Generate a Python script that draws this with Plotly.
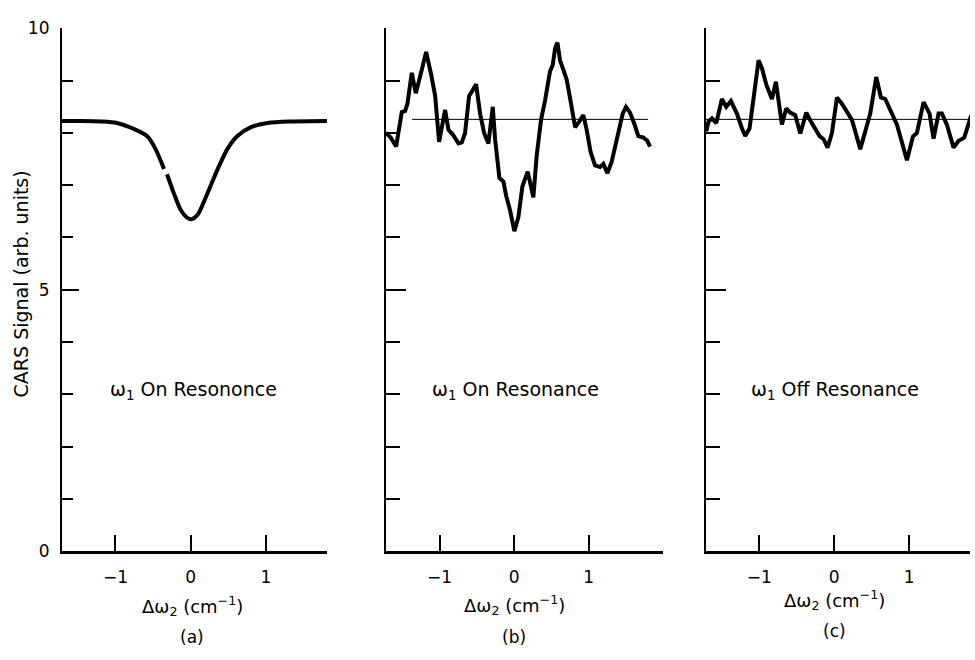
import plotly.graph_objects as go

# ---------------- data ----------------
a_x = [-1.71, -1.45, -1.2, -0.98, -0.76, -0.58, -0.47, -0.355, None, -0.315, -0.22, -0.13,
       -0.04, 0.01, 0.09, 0.18, 0.27, 0.38, 0.49, 0.62, 0.8, 1.02, 1.33, 1.81]
a_y = [8.23, 8.23, 8.22, 8.19, 8.08, 7.94, 7.70, 7.31, None, 7.21, 6.83, 6.52,
       6.37, 6.35, 6.43, 6.70, 7.01, 7.38, 7.70, 7.94, 8.11, 8.19, 8.22, 8.23]

b_x = [-1.718, -1.655, -1.584, -1.508, -1.463, -1.432, -1.374, -1.320, -1.262, -1.181,
       -1.114, -1.060, -1.007, -0.926, -0.881, -0.823, -0.747, -0.702, -0.658, -0.604,
       -0.559, -0.510, -0.456, -0.403, -0.345, -0.286, -0.255, -0.197, -0.143, -0.107,
       -0.054, 0.004, 0.058, 0.112, 0.183, 0.259, 0.304, 0.362, 0.416, 0.483,
       0.519, 0.550, 0.582, 0.617, 0.662, 0.707, 0.765, 0.819, 0.877, 0.931,
       0.975, 1.029, 1.087, 1.154, 1.199, 1.253, 1.311, 1.387, 1.459, 1.503,
       1.557, 1.611, 1.669, 1.736, 1.790, 1.826]
b_y = [8.00, 7.91, 7.74, 8.40, 8.42, 8.56, 9.15, 8.76, 9.08, 9.55,
       9.12, 8.71, 7.83, 8.44, 8.06, 7.97, 7.80, 7.82, 8.00, 8.71,
       8.81, 8.93, 8.37, 8.00, 7.80, 8.50, 7.88, 7.14, 7.07, 6.80,
       6.52, 6.12, 6.39, 6.98, 7.26, 6.77, 7.57, 8.25, 8.62, 9.18,
       9.30, 9.61, 9.73, 9.39, 9.21, 9.02, 8.56, 8.11, 8.22, 8.34,
       8.06, 7.63, 7.38, 7.35, 7.41, 7.23, 7.45, 7.94, 8.37, 8.50,
       8.39, 8.19, 7.94, 7.91, 7.85, 7.74]

c_x = [-1.707, -1.676, -1.631, -1.573, -1.498, -1.440, -1.378, -1.298, -1.231, -1.187,
       -1.129, -1.009, -0.964, -0.907, -0.831, -0.778, -0.698, -0.640, -0.587, -0.520,
       -0.453, -0.373, -0.311, -0.240, -0.196, -0.142, -0.089, -0.031, 0.036, 0.102,
       0.169, 0.236, 0.347, 0.413, 0.480, 0.560, 0.622, 0.680, 0.747, 0.836,
       0.969, 1.049, 1.102, 1.191, 1.271, 1.324, 1.391, 1.436, 1.502, 1.591,
       1.658, 1.733, 1.827]
c_y = [8.03, 8.22, 8.28, 8.19, 8.65, 8.50, 8.61, 8.37, 8.09, 7.94,
       8.09, 9.39, 9.24, 8.93, 8.65, 8.98, 8.16, 8.47, 8.39, 8.34,
       7.99, 8.39, 8.22, 8.06, 7.94, 7.88, 7.72, 8.00, 8.68, 8.56,
       8.40, 8.25, 7.69, 8.00, 8.37, 9.07, 8.68, 8.65, 8.44, 8.16,
       7.48, 7.93, 8.00, 8.59, 8.37, 7.89, 8.37, 8.37, 8.16, 7.72,
       7.85, 7.91, 8.34]

b_ref_x = [-1.37, 1.80]
b_ref_y = [8.26, 8.26]
c_ref_x = [-1.71, 1.81]
c_ref_y = [8.26, 8.26]

x_tickvals = [-1, 0, 1]
x_ticktext = ["\u22121", "0", "1"]
y_tickvals = [0, 5, 10]
y_ticktext = ["0", "5", "10"]

panel_texts = ["\u03c9<sub>1</sub> On Resononce",
               "\u03c9<sub>1</sub> On Resonance",
               "\u03c9<sub>1</sub> Off Resonance"]
panel_tags = ["(a)", "(b)", "(c)"]
x_title = "\u0394\u03c9<sub>2</sub> (cm<sup>\u22121</sup>)"
y_title = "CARS Signal (arb. units)"

# ---------------- figure ----------------
W, H = 975, 660
FONT = "DejaVu Sans"

def px_x(p):
    return p / W

def px_y(p):
    return 1 - p / H

fig = go.Figure()

black = "#000000"
fig.add_trace(go.Scatter(x=a_x, y=a_y, mode="lines", xaxis="x", yaxis="y",
                         line=dict(color=black, width=4, shape="spline", smoothing=0.8),
                         connectgaps=False, showlegend=False))
fig.add_trace(go.Scatter(x=b_ref_x, y=b_ref_y, mode="lines", xaxis="x2", yaxis="y2",
                         line=dict(color=black, width=1), showlegend=False))
fig.add_trace(go.Scatter(x=b_x, y=b_y, mode="lines", xaxis="x2", yaxis="y2",
                         line=dict(color=black, width=4), showlegend=False))
fig.add_trace(go.Scatter(x=c_ref_x, y=c_ref_y, mode="lines", xaxis="x3", yaxis="y3",
                         line=dict(color=black, width=1), showlegend=False))
fig.add_trace(go.Scatter(x=c_x, y=c_y, mode="lines", xaxis="x3", yaxis="y3",
                         line=dict(color=black, width=4), showlegend=False))

x_domains = [(62, 327), (386, 663), (706, 970)]
x_ranges = [(-1.71, 1.81), (-1.72, 2.0), (-1.71, 1.81)]
y_dom = [px_y(558), px_y(19)]

maj_len = [17, 20, 20]
min_len = [11, 14, 14]

layout = dict(width=W, height=H, margin=dict(l=0, r=0, t=0, b=0),
              paper_bgcolor="white", plot_bgcolor="white",
              font=dict(family=FONT, size=16, color=black), showlegend=False)

for i in range(3):
    xs = "" if i == 0 else str(i + 1)
    layout["xaxis" + xs] = dict(
        domain=[px_x(x_domains[i][0]), px_x(x_domains[i][1])],
        range=list(x_ranges[i]), anchor="y" + xs,
        showline=True, linecolor=black, linewidth=2.5,
        showgrid=False, zeroline=False,
        tickmode="array", tickvals=x_tickvals, ticktext=x_ticktext,
        ticks="inside", ticklen=16, tickwidth=2.2, tickcolor=black,
        ticklabelstandoff=9,
        tickfont=dict(family=FONT, size=17, color=black),
    )
    layout["yaxis" + xs] = dict(
        domain=y_dom, range=[0, 10], anchor="x" + xs,
        showline=True, linecolor=black, linewidth=2.2,
        showgrid=False, zeroline=False,
        tickmode="array", tickvals=y_tickvals, ticktext=y_ticktext,
        ticks="inside", ticklen=maj_len[i], tickwidth=2, tickcolor=black,
        showticklabels=(i == 0), ticklabelstandoff=7,
        tickfont=dict(family=FONT, size=17, color=black),
        minor=dict(dtick=1, tick0=0, ticks="inside", ticklen=min_len[i],
                   tickwidth=2, tickcolor=black, showgrid=False),
    )

fig.update_layout(**layout)

text_cx = [193, 515, 835]
title_cy = [615, 614, 608]
tag_cy = [647, 647, 640]
for i in range(3):
    fig.add_annotation(x=px_x(text_cx[i]), y=px_y(392), xref="paper", yref="paper",
                       text=panel_texts[i], showarrow=False, xanchor="center",
                       yanchor="middle", font=dict(family=FONT, size=19, color=black))
    fig.add_annotation(x=px_x(text_cx[i] - 1), y=px_y(title_cy[i]), xref="paper", yref="paper",
                       text=x_title, showarrow=False, xanchor="center",
                       yanchor="middle", font=dict(family=FONT, size=18, color=black))
    fig.add_annotation(x=px_x(text_cx[i] - 1), y=px_y(tag_cy[i]), xref="paper", yref="paper",
                       text=panel_tags[i], showarrow=False, xanchor="center",
                       yanchor="middle", font=dict(family=FONT, size=17, color=black))

fig.add_annotation(x=px_x(21), y=px_y(283), xref="paper", yref="paper",
                   text=y_title, showarrow=False, textangle=-90,
                   xanchor="center", yanchor="middle",
                   font=dict(family=FONT, size=19, color=black))

fig.write_html("out.html")
